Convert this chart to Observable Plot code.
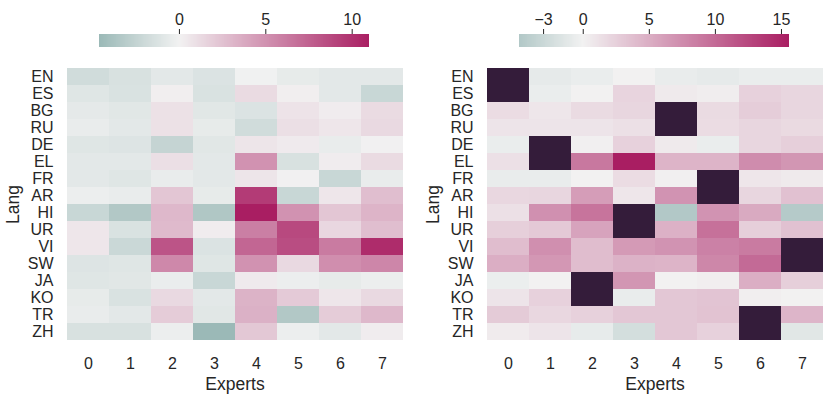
<!DOCTYPE html>
<html>
<head>
<meta charset="utf-8">
<script src="https://cdn.jsdelivr.net/npm/d3@7"></script>
<script src="https://cdn.jsdelivr.net/npm/@observablehq/plot@0.6"></script>
<style>
  html, body { margin: 0; padding: 0; background: #fff; }
  #root { position: relative; width: 830px; height: 396px; overflow: hidden; background: #fff; }
  .part { position: absolute; }
</style>
</head>
<body>
<div id="root"></div>
<script>
const langs = ["EN","ES","BG","RU","DE","EL","FR","AR","HI","UR","VI","SW","JA","KO","TR","ZH"];
const experts = [0,1,2,3,4,5,6,7];
const xTitle = "Experts";
const yTitle = "Lang";

// Left heatmap values (rows = langs, cols = experts)
const leftValues = [
  [-1.8, -1.4, -0.8, -1.2, -0.1, -0.6, -0.8, -0.8],
  [-1.0, -1.3,  0.2, -1.3,  1.2,  0.2, -0.8, -2.2],
  [-0.7, -0.9,  0.9, -0.9, -1.2,  0.8,  0.3,  1.2],
  [-0.5, -0.8,  0.9, -0.6, -1.8,  1.0,  0.6,  1.3],
  [-1.0, -1.1, -2.4, -0.9,  0.7,  0.4, -0.5,  0.1],
  [-0.8, -0.8,  1.0, -0.8,  5.0, -1.4,  0.3,  1.2],
  [-0.8, -1.0, -0.5, -0.8,  0.7,  0.1, -2.2, -0.5],
  [-0.3, -0.5,  2.3, -0.6,  9.5, -2.2,  0.6,  2.7],
  [-2.2, -3.4,  3.0, -3.5, 11.02, 5.0,  2.3,  3.2],
  [ 0.6, -1.3,  2.9,  0.3,  6.0,  8.8,  1.4,  2.7],
  [ 0.6, -2.1,  8.2, -1.2,  7.3,  8.6,  6.2, 10.3],
  [-1.1, -1.0,  5.5, -1.0,  5.0,  1.3,  5.2,  5.6],
  [-1.0, -0.9, -0.4, -2.2,  0.4, -0.3, -0.6, -0.3],
  [-0.6, -1.3,  1.3, -0.8,  3.3,  2.1,  0.6,  1.3],
  [-0.5, -0.8,  2.0, -0.9,  3.4, -3.4,  2.0,  3.0],
  [-1.4, -1.4, -0.3, -4.61, 2.2, -0.3, -0.8,  0.3]
];

// Right heatmap values; null = highlighted (dark) cell
const rightValues = [
  [null, -0.9, -0.6,  0.1, -0.7, -0.9, -0.6, -0.6],
  [null, -0.6,  0.1,  2.2,  0.6,  0.4,  2.4,  2.1],
  [ 1.6,  0.9,  1.7,  2.1, null,  1.7,  2.7,  2.1],
  [ 1.0,  1.0,  1.0,  1.3, null,  1.6,  2.1,  1.8],
  [-0.6, null,  0.2,  2.4,  0.6, -0.6,  2.1,  2.6],
  [ 1.3, null,  9.0, 15.63, 4.6,  4.6,  7.5,  6.8],
  [-0.7, -0.7,  0.1,  1.6,  0.2, null,  0.9,  0.6],
  [ 2.0,  2.1,  6.3,  0.9,  7.0, null,  2.1,  3.6],
  [ 1.3,  7.2,  9.3, null, -4.80, 7.0,  5.3, -4.6],
  [ 2.6,  3.0,  5.8, null,  4.8,  9.5,  2.6,  3.6],
  [ 3.9,  7.3,  3.9,  6.5,  7.0,  8.3,  8.8, null],
  [ 5.0,  6.7,  3.9,  4.7,  4.6,  7.9, 10.0, null],
  [-0.5,  0.1, null,  6.8,  0.1,  0.3,  5.0,  2.6],
  [ 1.0,  2.4, null, -0.7,  3.2,  3.4,  0.3,  0.1],
  [ 2.9,  2.0,  2.4,  3.2,  3.2,  3.5, null,  4.5],
  [ 0.5,  1.0, -0.8, -2.3,  3.2,  2.4, null, -1.3]
];

const leftTicks = [0, 5, 10];
const rightTicks = [-3, 0, 5, 10, 15];

const centerColor = "#f2f2f2";
const negColor = "#226a65";
const posColor = "#a91e62";
const maskColor = "#341c3a";

function colorOpts(values) {
  const flat = values.flat().filter(v => v != null);
  const [vmin, vmax] = d3.extent(flat);
  const vr = Math.max(-vmin, vmax);
  const at = v => v < 0 ? d3.interpolateRgb(centerColor, negColor)(-v / vr)
                        : d3.interpolateRgb(centerColor, posColor)(v / vr);
  return { type: "linear", domain: [vmin, 0, vmax], range: [at(vmin), centerColor, at(vmax)], interpolate: "rgb" };
}

function table(values) {
  const rows = [];
  langs.forEach((lang, i) => experts.forEach((e, j) => rows.push({lang, expert: e, value: values[i][j]})));
  return rows;
}

const fontStyle = {fontFamily: "'Liberation Sans', Arial, sans-serif", fontSize: "16px", color: "#262626", background: "transparent"};
const minus = d => d < 0 ? "\u2212" + Math.abs(d) : String(d);

function heatmap(values, width, marginRight) {
  const data = table(values);
  return Plot.plot({
    width, height: 346,
    marginTop: 15, marginBottom: 53, marginLeft: 66, marginRight,
    style: fontStyle,
    x: {domain: experts, padding: 0, label: null, tickSize: 0, tickPadding: 14},
    y: {domain: langs, padding: 0, label: null, tickSize: 0, tickPadding: 13},
    color: colorOpts(values),
    marks: [
      Plot.cell(data.filter(d => d.value != null), {x: "expert", y: "lang", fill: "value", inset: 0}),
      Plot.cell(data.filter(d => d.value == null), {x: "expert", y: "lang", fill: maskColor, inset: 0}),
      Plot.text([xTitle], {frameAnchor: "bottom", dy: 41, lineAnchor: "middle", textAnchor: "middle", fontSize: 17.5, fill: "#262626", text: d => d}),
      Plot.text([yTitle], {frameAnchor: "left", dx: -53.5, rotate: -90, lineAnchor: "middle", textAnchor: "middle", fontSize: 17.5, fill: "#262626", text: d => d})
    ]
  });
}

function colorbar(values, ticks, width, marginLeft, marginRight) {
  const c = colorOpts(values);
  const [vmin, , vmax] = c.domain;
  const n = 300;
  const step = (vmax - vmin) / n;
  const steps = d3.range(n).map(i => vmin + i * step);
  return Plot.plot({
    width, height: 47,
    marginTop: 34, marginBottom: 0, marginLeft, marginRight,
    style: fontStyle,
    x: {domain: [vmin, vmax], axis: "top", ticks, tickSize: 6, tickPadding: 4, tickFormat: minus, label: null},
    y: {domain: [0, 1], axis: null},
    color: c,
    marks: [
      Plot.rect(steps, {x1: d => d, x2: d => d + step * 1.02, y1: 0, y2: 1, fill: d => d + step / 2, shapeRendering: "crispEdges"})
    ]
  });
}

const root = document.getElementById("root");
function place(el, left, top) {
  const wrap = document.createElement("div");
  wrap.className = "part";
  wrap.style.left = left + "px";
  wrap.style.top = top + "px";
  wrap.appendChild(el);
  root.appendChild(wrap);
}

place(colorbar(leftValues, leftTicks, 415, 99.3, 45.7), 0, 0);
place(colorbar(rightValues, rightTicks, 410, 99.3, 40.7), 420, 0);
place(heatmap(leftValues, 415, 12), 0, 50);
place(heatmap(rightValues, 410, 7), 420, 50);
</script>
</body>
</html>
